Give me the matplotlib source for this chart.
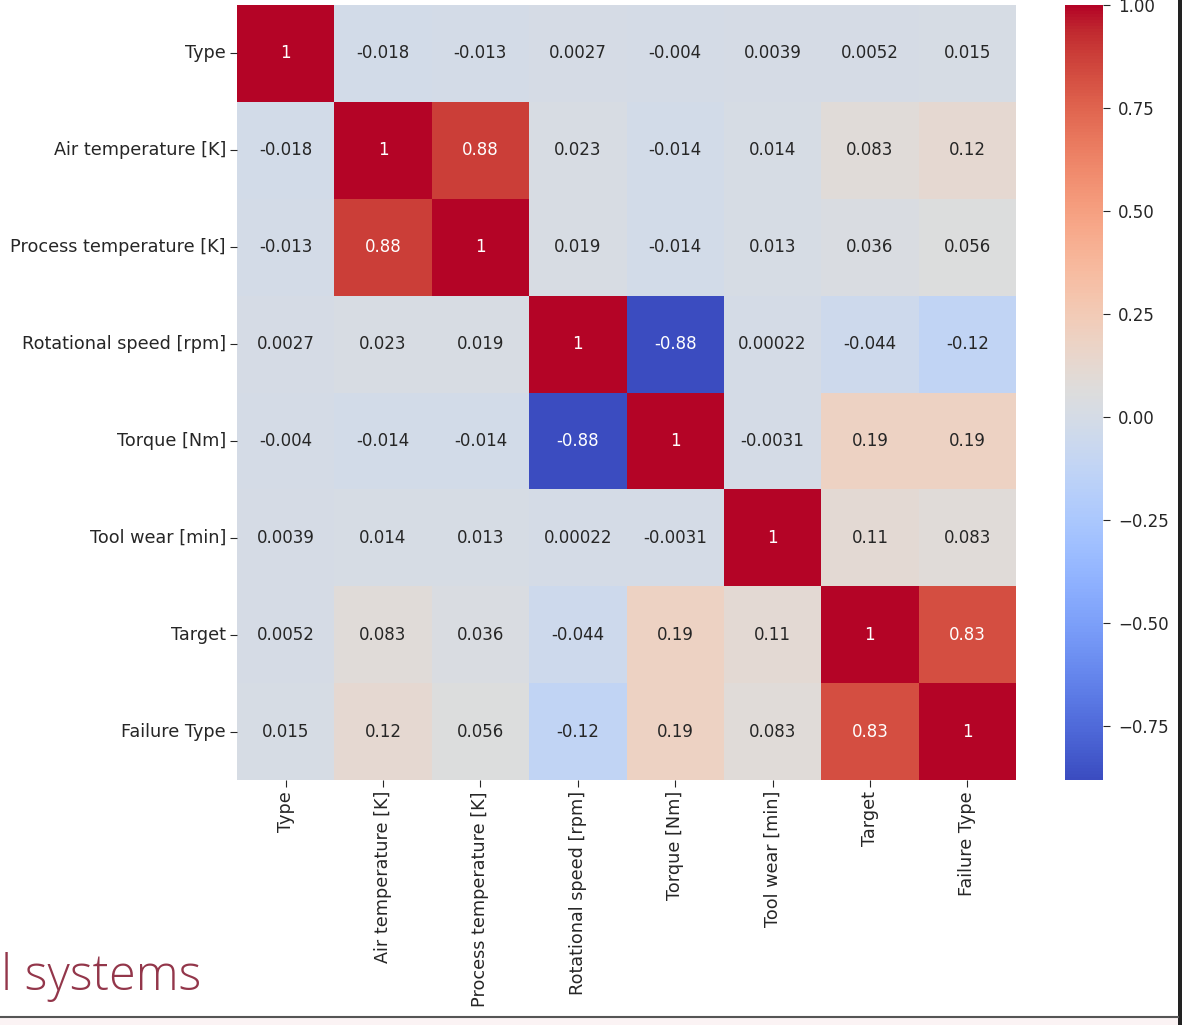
import matplotlib
matplotlib.use("Agg")
import matplotlib.pyplot as plt
import numpy as np
import pandas as pd
import seaborn as sns

labels = ["Type", "Air temperature [K]", "Process temperature [K]",
          "Rotational speed [rpm]", "Torque [Nm]", "Tool wear [min]",
          "Target", "Failure Type"]

row_type = [1, -0.018, -0.013, 0.0027, -0.004, 0.0039, 0.0052, 0.015]
row_air = [-0.018, 1, 0.88, 0.023, -0.014, 0.014, 0.083, 0.12]
row_process = [-0.013, 0.88, 1, 0.019, -0.014, 0.013, 0.036, 0.056]
row_rot = [0.0027, 0.023, 0.019, 1, -0.88, 0.00022, -0.044, -0.12]
row_torque = [-0.004, -0.014, -0.014, -0.88, 1, -0.0031, 0.19, 0.19]
row_tool = [0.0039, 0.014, 0.013, 0.00022, -0.0031, 1, 0.11, 0.083]
row_target = [0.0052, 0.083, 0.036, -0.044, 0.19, 0.11, 1, 0.83]
row_failure = [0.015, 0.12, 0.056, -0.12, 0.19, 0.083, 0.83, 1]

corr = pd.DataFrame([row_type, row_air, row_process, row_rot, row_torque,
                     row_tool, row_target, row_failure],
                    index=labels, columns=labels)

W, H = 1182, 1025
fig = plt.figure(figsize=(W / 100, H / 100), dpi=100)
fig.patch.set_facecolor("white")

ax = fig.add_axes([237 / W, 1 - 780 / H, (1016 - 237) / W, (780 - 5) / H])
cax = fig.add_axes([1065 / W, 1 - 780 / H, (1103 - 1065) / W, (780 - 5) / H])

sns.heatmap(corr, annot=True, cmap="coolwarm", fmt=".2g", ax=ax, cbar_ax=cax,
            annot_kws={"fontsize": 12})

ax.tick_params(axis="both", labelsize=12.7, colors="#262626", length=5, pad=3)
ax.set_xticklabels(labels, rotation=90, fontsize=12.7, color="#262626")
ax.set_yticklabels(labels, rotation=0, fontsize=12.7, color="#262626")
cax.tick_params(labelsize=12, colors="#262626", length=5, pad=6)
cax.set_yticks([-0.75, -0.5, -0.25, 0, 0.25, 0.5, 0.75, 1.0])
cax.set_yticklabels(["\u22120.75", "\u22120.50", "\u22120.25", "0.00",
                     "0.25", "0.50", "0.75", "1.00"])
for s in cax.spines.values():
    s.set_visible(False)

# screenshot framing
fig.patches.append(plt.Rectangle((0, 0), 1, 8 / H, transform=fig.transFigure,
                                 facecolor="#fbf3f4", edgecolor="none", zorder=0))
fig.add_artist(plt.Line2D([0, 1178 / W], [1 - 1017 / H] * 2,
                          transform=fig.transFigure, color="#555555", lw=1.5))
fig.add_artist(plt.Rectangle((1178 / W, 0), 4 / W, 1, transform=fig.transFigure,
                             facecolor="#222222", edgecolor="none"))
fig.text(1 / W, 1 - 990 / H, "l systems", fontsize=35, color="#93364a",
         family="Open Sans", weight="light", va="baseline", ha="left")

fig.savefig("out.png", dpi=100)
